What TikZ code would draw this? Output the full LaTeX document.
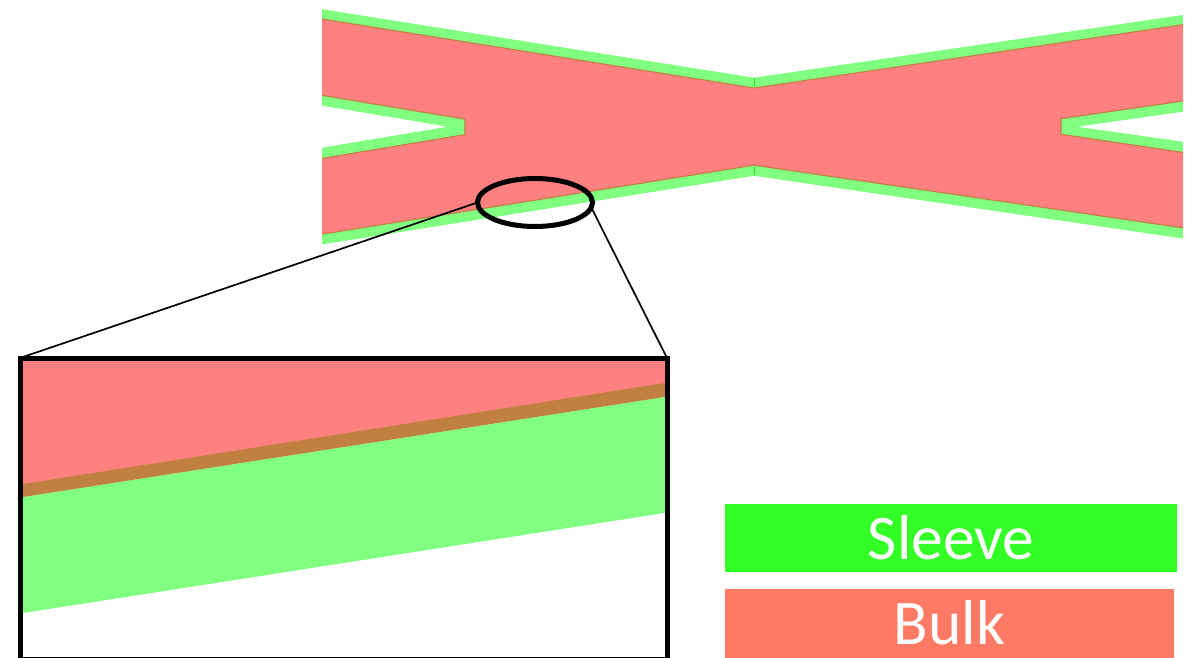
\documentclass[tikz,border=0pt]{standalone}
\usepackage{fontspec}
\setmainfont{Carlito}
\usetikzlibrary{shapes.geometric}
\definecolor{sleevefill}{RGB}{128,255,128}
\definecolor{bulkfill}{RGB}{255,128,128}
\definecolor{interface}{RGB}{192,128,64}
\definecolor{seam}{RGB}{40,225,40}
\definecolor{legendsleeve}{RGB}{51,255,38}
\definecolor{legendbulk}{RGB}{255,122,100}
\tikzset{
  interfaceline/.style={draw=interface,line width=1.1pt,line join=miter},
  legendbox/.style={inner sep=0pt,outer sep=0pt,text=white,font=\fontsize{63.5}{70}\selectfont,anchor=center,text height=55pt},
  leader/.style={draw=black,line width=1.7pt},
}
\begin{document}
\begin{tikzpicture}[x=1pt,y=-1pt]
\useasboundingbox (0,0) rectangle (1187,658);
% sleeve
\fill[sleevefill] (322,9.2)--(754,77.7)--(1183,15)--(1183,111.7)--(1077,126.7)--(1183,141.7)--(1183,238.5)--(754,175.8)--(322,244.5)--(322,147.7)--(448,126.7)--(322,105.7)--cycle;
% bulk
\fill[bulkfill] (322,19)--(754,88)--(1183,24.7)--(1183,101)--(1061,118.7)--(1061,134.3)--(1183,152.4)--(1183,227.9)--(754,165.2)--(322,234.2)--(322,158.4)--(465,134.6)--(465,119.2)--(322,95.3)--cycle;
% interface between them
\draw[interfaceline] (322,19)--(754,88)--(1183,24.7);
\draw[interfaceline] (1183,101)--(1061,118.7)--(1061,134.3)--(1183,152.4);
\draw[interfaceline] (1183,227.9)--(754,165.2)--(322,234.2);
\draw[interfaceline] (322,158.4)--(465,134.6)--(465,119.2)--(322,95.3);
\draw[seam,line width=0.7pt] (754,78)--(754,86);
\draw[seam,line width=0.7pt] (754,167)--(754,175);
% inset
\begin{scope}
\clip (20,358) rectangle (667,658);
\fill[bulkfill] (20,358)--(667,358)--(667,383)--(20,485)--cycle;
\fill[sleevefill] (20,497.5)--(667,396.6)--(667,512.6)--(20,613.5)--cycle;
\fill[interface] (20,484.5)--(667,382.6)--(667,396.6)--(20,497.5)--cycle;
\end{scope}
\node[draw=black,line width=5pt,minimum width=647pt,minimum height=301.5pt,inner sep=0pt,outer sep=0pt] (inset) at (343.5,508.75) {};
\node[ellipse,draw=black,line width=5pt,minimum width=115pt,minimum height=48pt,inner sep=0pt,outer sep=0pt] (zoomring) at (535,202.5) {};
\draw[leader] (zoomring.west) -- (inset.north west);
\draw[leader] (zoomring.-5) -- (inset.north east);
% legend
\node[legendbox,fill=legendsleeve,minimum width=452pt,text depth=13pt] (sleeve) at (951,538) {Sleeve};
\node[legendbox,fill=legendbulk,minimum width=449pt,text depth=14pt] (bulk) at (949.5,623.5) {Bulk};
\end{tikzpicture}
\end{document}
